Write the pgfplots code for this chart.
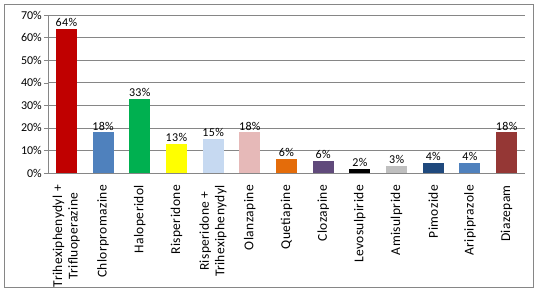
\documentclass[border=0pt]{standalone}
\usepackage{pgfplots}
\pgfplotsset{compat=1.18}
\usepackage{fontspec}
\setmainfont{Carlito}
\definecolor{c1}{HTML}{C00000}
\definecolor{c2}{HTML}{4F81BD}
\definecolor{c3}{HTML}{00B050}
\definecolor{c4}{HTML}{FFFF00}
\definecolor{c5}{HTML}{C6D9F1}
\definecolor{c6}{HTML}{E6B9B8}
\definecolor{c7}{HTML}{E46C0A}
\definecolor{c8}{HTML}{604A7B}
\definecolor{c9}{HTML}{000000}
\definecolor{c10}{HTML}{BFBFBF}
\definecolor{c11}{HTML}{1F497D}
\definecolor{c12}{HTML}{4F81BD}
\definecolor{c13}{HTML}{953735}
\definecolor{gridc}{HTML}{868686}
\begin{document}
\begin{tikzpicture}
\path (0,0) rectangle (541pt,-294pt);
\draw[gridc] (4pt,-4pt) rectangle (533pt,-287pt);
\begin{axis}[
  at={(48pt,-173pt)}, anchor=south west,
  scale only axis, width=477pt, height=158pt,
  ymin=0, ymax=70, ytick={0,10,...,70},
  yticklabel={\pgfmathprintnumber{\tick}\%},
  xmin=-0.5, xmax=12.5,
  xtick={0,...,12},
  xticklabels={{Trihexiphenydyl +\\Trifluoperazine},Chlorpromazine,Haloperidol,Risperidone,{Risperidone +\\Trihexiphenydyl},Olanzapine,Quetiapine,Clozapine,Levosulpiride,Amisulpride,Pimozide,Aripiprazole,Diazepam},
  xticklabel style={rotate=90, anchor=east, align=center, font=\fontsize{13.5}{15.5}\addfontfeature{LetterSpace=3}\selectfont, inner sep=2pt},
  xticklabel shift=6pt,
  x tick style={draw=none},
  y tick style={gridc},
  major tick length=4pt,
  tick align=outside,
  ytick pos=left,
  yticklabel style={font=\fontsize{12}{14}\selectfont, inner sep=2pt},
  ymajorgrids, grid style={gridc, line width=0.6pt},
  axis x line*=bottom, axis y line*=left,
  axis line style={gridc, line width=0.6pt},
  /pgf/number format/assume math mode=true,
  ybar, bar width=21pt, bar shift=0pt,
  nodes near coords,
  point meta=explicit symbolic,
  nodes near coords style={font=\fontsize{12}{14}\addfontfeature{LetterSpace=3}\selectfont, text=black, inner sep=2pt},
  clip=false,
]
\addplot[fill=c1, draw=none] coordinates {(0,64) [64\%]};
\addplot[fill=c2, draw=none] coordinates {(1,18) [18\%]};
\addplot[fill=c3, draw=none] coordinates {(2,33) [33\%]};
\addplot[fill=c4, draw=none] coordinates {(3,13) [13\%]};
\addplot[fill=c5, draw=none] coordinates {(4,15) [15\%]};
\addplot[fill=c6, draw=none] coordinates {(5,18) [18\%]};
\addplot[fill=c7, draw=none] coordinates {(6,6.3) [6\%]};
\addplot[fill=c8, draw=none] coordinates {(7,5.5) [6\%]};
\addplot[fill=c9, draw=none] coordinates {(8,1.9) [2\%]};
\addplot[fill=c10, draw=none] coordinates {(9,3.3) [3\%]};
\addplot[fill=c11, draw=none] coordinates {(10,4.5) [4\%]};
\addplot[fill=c12, draw=none] coordinates {(11,4.5) [4\%]};
\addplot[fill=c13, draw=none] coordinates {(12,18) [18\%]};
\end{axis}
\end{tikzpicture}
\end{document}
